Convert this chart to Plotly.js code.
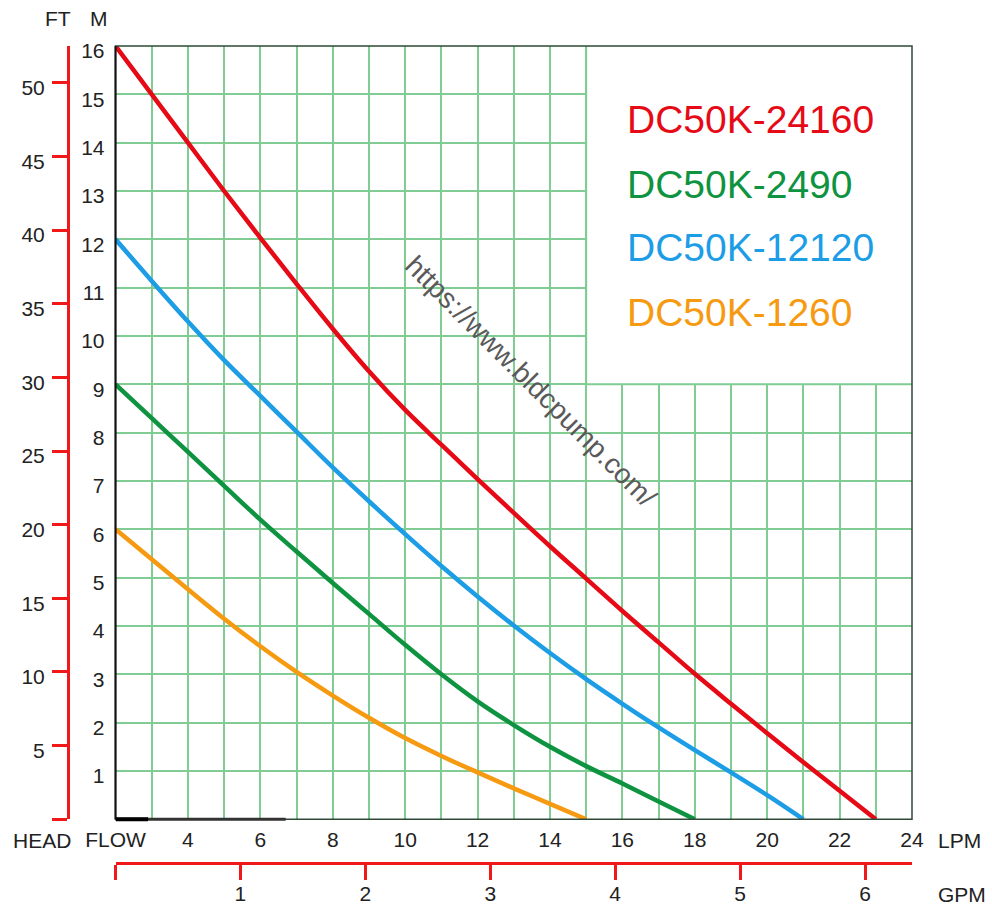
<!DOCTYPE html>
<html>
<head>
<meta charset="utf-8">
<script src="https://cdn.plot.ly/plotly-3.0.1.min.js"></script>
<style>html,body{margin:0;padding:0;background:#fff;}#chart{width:992px;height:908px;}</style>
</head>
<body>
<div id="chart"></div>
<script>
// ---- data ----
const seriesNames = ["DC50K-24160", "DC50K-2490", "DC50K-12120", "DC50K-1260"];

const redFlow = [2,3,4,5,6,7,8,9,10,11,12,13,14,15,16,17,18,19,20,21,22,23];
const redHead = [16,15,14,13,12.03,11.08,10.15,9.27,8.47,7.75,7.04,6.34,5.65,4.98,4.31,3.66,3.01,2.39,1.78,1.18,0.59,0];

const greenFlow = [2,3,4,5,6,7,8,9,10,11,12,13,14,15,16,17,18];
const greenHead = [9,8.3,7.6,6.9,6.2,5.54,4.89,4.25,3.61,3.0,2.44,1.95,1.5,1.1,0.74,0.37,0];

const blueFlow = [2,3,4,5,6,7,8,9,10,11,12,13,14,15,16,17,18,19,20,21];
const blueHead = [12,11.14,10.3,9.5,8.76,8.02,7.28,6.58,5.9,5.24,4.61,4.01,3.44,2.9,2.39,1.9,1.43,0.97,0.5,0];

const orangeFlow = [2,3,4,5,6,7,8,9,10,11,12,13,14,15];
const orangeHead = [6,5.38,4.76,4.15,3.58,3.05,2.56,2.1,1.68,1.31,0.97,0.64,0.32,0];

const lpmTickVals = [2,3,4,5,6,7,8,9,10,11,12,13,14,15,16,17,18,19,20,21,22,23,24];
const lpmTickText = ["FLOW","","4","","6","","8","","10","","12","","14","","16","","18","","20","","22","","24"];
const mTickVals = [0,1,2,3,4,5,6,7,8,9,10,11,12,13,14,15,16];
const mTickText = ["","1","2","3","4","5","6","7","8","9","10","11","12","13","14","15","16"];
const ftTickVals = [0,5,10,15,20,25,30,35,40,45,50];
const ftTickText = ["","5","10","15","20","25","30","35","40","45","50"];
const gpmTickVals = [0,1,2,3,4,5,6];
const gpmTickText = ["","1","2","3","4","5","6"];

const lpmRange = [2, 24];
const mRange = [0, 16];
const ftRange = [0, 16 * 3.28084];
const gpmRange = [0, 6.376];

const watermark = "https://www.bldcpump.com/";

// ---- styling ----
const colors = ["#e60a16", "#0e9340", "#1c9de6", "#f69a12"];
const gridColor = "#80cc93";
const font = "Liberation Sans, Arial, sans-serif";
const txt = "#222";
const xDom = [0.0563, 1];
const yDom = [0.0535, 1];

const traces = [
  {x: redFlow, y: redHead, name: seriesNames[0], color: colors[0]},
  {x: greenFlow, y: greenHead, name: seriesNames[1], color: colors[1]},
  {x: blueFlow, y: blueHead, name: seriesNames[2], color: colors[2]},
  {x: orangeFlow, y: orangeHead, name: seriesNames[3], color: colors[3]}
].map(s => ({
  type: "scatter", mode: "lines", x: s.x, y: s.y, name: s.name,
  line: {color: s.color, width: 4.5, shape: "spline", smoothing: 1},
  xaxis: "x", yaxis: "y", hoverinfo: "skip", showlegend: false
}));

// invisible traces so the secondary axes are drawn
traces.push({type: "scatter", mode: "markers", x: [0], y: [0], xaxis: "x2", yaxis: "y", marker: {opacity: 0}, showlegend: false, hoverinfo: "skip"});
traces.push({type: "scatter", mode: "markers", x: [2], y: [0], xaxis: "x", yaxis: "y2", marker: {opacity: 0}, showlegend: false, hoverinfo: "skip"});

const legendY = [14.48, 13.13, 11.83, 10.48];
const annotations = seriesNames.map((n, i) => ({
  text: n, x: 16.07, y: legendY[i], xref: "x", yref: "y", xanchor: "left", yanchor: "middle",
  showarrow: false, font: {family: font, size: 39, color: colors[i]}
}));
annotations.push({text: watermark, x: 13.47, y: 9.05, xref: "x", yref: "y", showarrow: false,
  textangle: 45, font: {family: font, size: 28, color: "#5a5a5a"}});
const lab = (t, x, y) => ({text: t, x: x, y: y, xref: "paper", yref: "paper", xanchor: "center", yanchor: "middle",
  showarrow: false, font: {family: font, size: 21, color: txt}});
const px = v => (v - 68) / 844;
const py = v => (863 - v) / 817;
annotations.push(lab("FT", px(58), py(18)));
annotations.push(lab("M", px(99), py(18)));
annotations.push(lab("HEAD", px(42), py(840)));
annotations.push(lab("LPM", px(960), py(840)));
annotations.push(lab("GPM", px(962), py(894)));

const shapes = [
  {type: "rect", xref: "x", yref: "y", x0: 15, x1: 24, y0: 9, y1: 16, fillcolor: "#ffffff", line: {width: 0}, layer: "above"},
  {type: "line", xref: "x", yref: "y", x0: 15, x1: 15, y0: 9, y1: 16, line: {color: gridColor, width: 2}, layer: "above"},
  {type: "line", xref: "x", yref: "y", x0: 15, x1: 24, y0: 9, y1: 9, line: {color: gridColor, width: 2}, layer: "above"},
  {type: "rect", xref: "x domain", yref: "y domain", x0: 0, x1: 1, y0: 0, y1: 1, line: {color: "#2f4a36", width: 1.5}, layer: "above"},
  {type: "line", xref: "x domain", yref: "y domain", x0: 0, x1: 0, y0: 0, y1: 1, line: {color: "#111", width: 2}, layer: "above"},
  {type: "line", xref: "x", yref: "y domain", x0: 2, x1: 6.7, y0: 0, y1: 0, line: {color: "#333", width: 3}, layer: "above"},
  {type: "line", xref: "x", yref: "y domain", x0: 2, x1: 2.9, y0: 0, y1: 0, line: {color: "#000", width: 4}, layer: "above"}
];

const layout = {
  width: 992, height: 908,
  margin: {l: 68, r: 80, t: 46, b: 45, pad: 0},
  paper_bgcolor: "#fff", plot_bgcolor: "#fff",
  showlegend: false,
  font: {family: font, size: 21, color: txt},
  xaxis: {
    domain: xDom, range: lpmRange, anchor: "y",
    tickmode: "array", tickvals: lpmTickVals, ticktext: lpmTickText,
    showgrid: true, gridcolor: gridColor, gridwidth: 2,
    zeroline: false, showline: false, ticks: "", ticklabelstandoff: 6,
    tickfont: {family: font, size: 21, color: txt}, fixedrange: true
  },
  xaxis2: {
    domain: xDom, range: gpmRange, anchor: "free", position: 0, overlaying: "x", side: "bottom",
    tickmode: "array", tickvals: gpmTickVals, ticktext: gpmTickText,
    showgrid: false, zeroline: false, showline: true, linecolor: "#f01818", linewidth: 3,
    ticks: "outside", ticklen: 15, tickwidth: 3, tickcolor: "#f01818", ticklabelstandoff: -4,
    tickfont: {family: font, size: 21, color: txt}, fixedrange: true
  },
  yaxis: {
    domain: yDom, range: mRange, anchor: "x",
    tickmode: "array", tickvals: mTickVals, ticktext: mTickText,
    showgrid: true, gridcolor: gridColor, gridwidth: 2,
    zeroline: false, showline: false, ticks: "", ticklabelstandoff: 10, ticklabelshift: 5,
    tickfont: {family: font, size: 21, color: txt}, fixedrange: true
  },
  yaxis2: {
    domain: yDom, range: ftRange, anchor: "free", position: 0, overlaying: "y", side: "left",
    tickmode: "array", tickvals: ftTickVals, ticktext: ftTickText,
    showgrid: false, zeroline: false, showline: true, linecolor: "#f01818", linewidth: 3,
    ticks: "outside", ticklen: 15, tickwidth: 3, tickcolor: "#f01818", ticklabelstandoff: 3, ticklabelshift: 5,
    tickfont: {family: font, size: 21, color: txt}, fixedrange: true
  },
  annotations: annotations,
  shapes: shapes
};

Plotly.newPlot("chart", traces, layout, {staticPlot: true, displayModeBar: false});
</script>
</body>
</html>
